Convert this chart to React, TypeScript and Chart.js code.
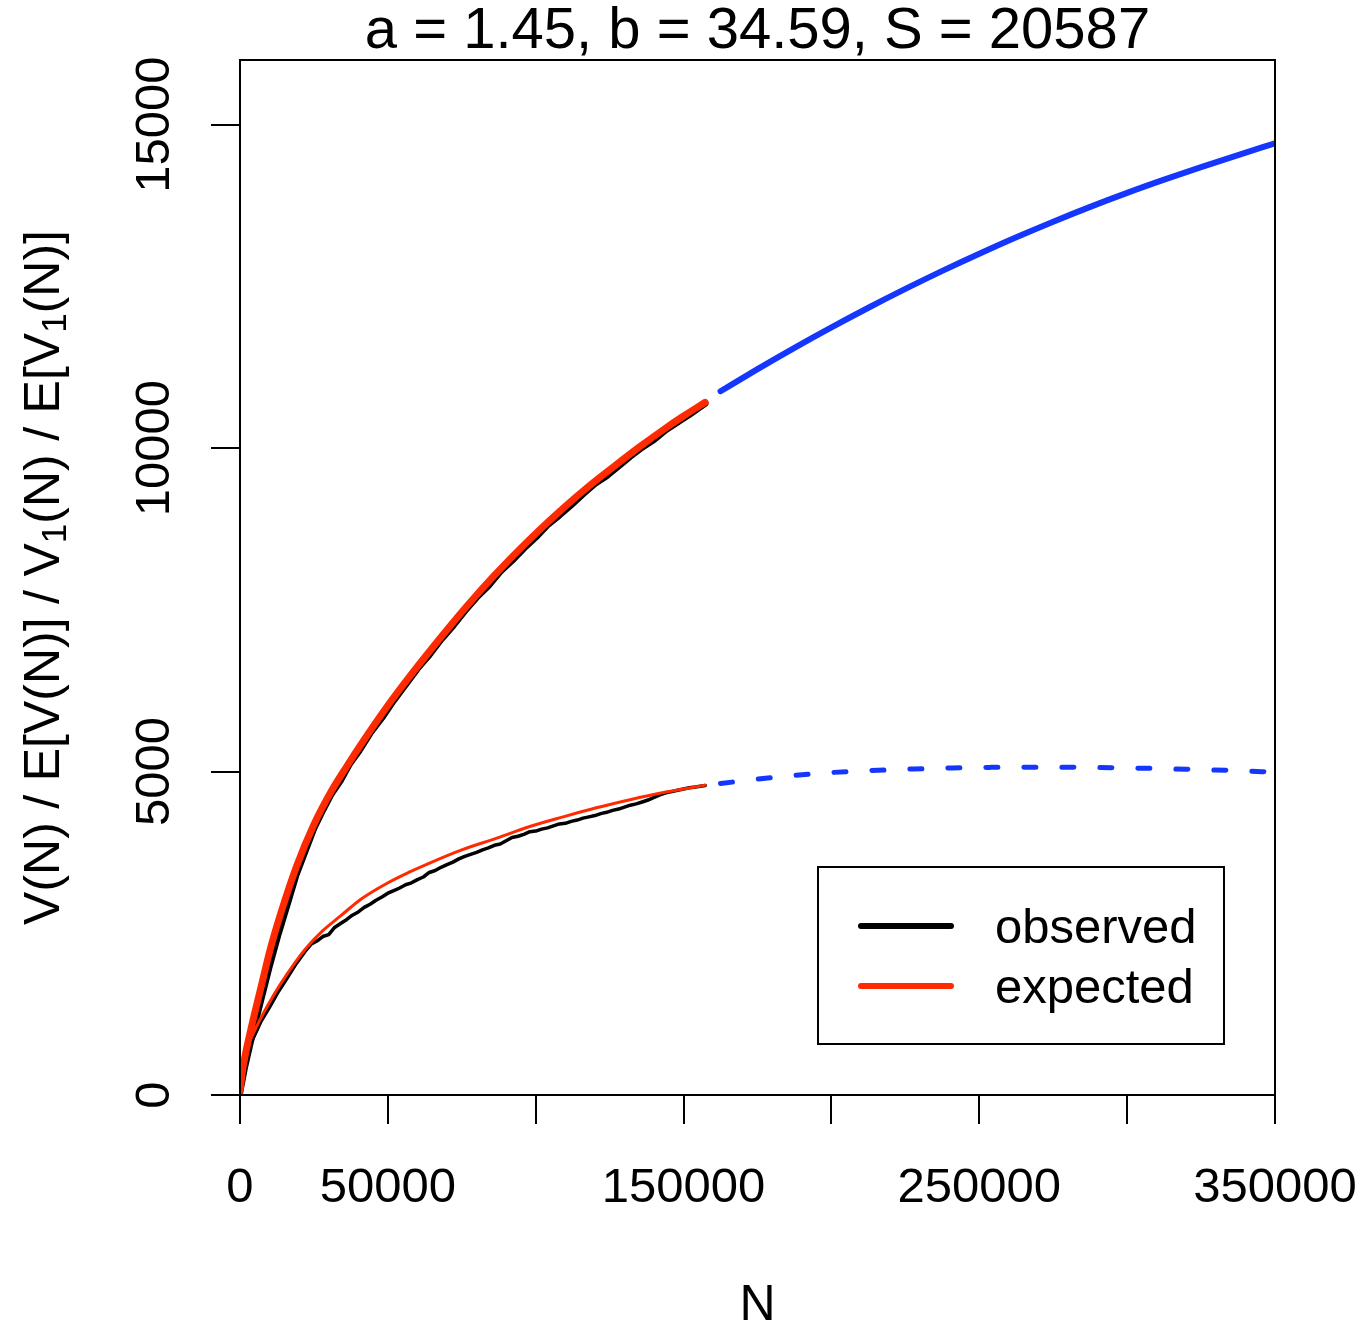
import React, { useEffect, useRef } from 'react';
import { Chart, registerables } from 'chart.js';

Chart.register(...registerables);

const FONT = '"Liberation Sans", Arial, Helvetica, sans-serif';

const titleText = 'a = 1.45, b = 34.59, S = 20587';
const xTitle = 'N';
const xRange = [0, 350000];
const yRange = [0, 16000];
const xTickValues = [0, 50000, 100000, 150000, 200000, 250000, 300000, 350000];
const xTickLabels = ['0', '50000', '', '150000', '', '250000', '', '350000'];
const yTickValues = [0, 5000, 10000, 15000];
const yTickLabels = ['0', '5000', '10000', '15000'];
const legendLabels = ['observed', 'expected'];
const legendColors = ['#000000', '#ff2a00'];

const RED = '#ff2a00';
const BLUE = '#1436ff';
const BLACK = '#000000';

// V(N): observed
const upperObsN = [0, 1500, 4000, 7000, 10000, 13000, 16000, 19000, 22000, 25000, 28000, 31000, 34000, 37000, 40000, 44000, 48000, 52000, 56000, 60000, 64000, 68000, 72000, 76000, 80000, 84000, 88000, 92000, 96000, 100000, 104000, 108000, 112000, 116000, 120000, 124000, 128000, 132000, 136000, 140000, 144000, 148000, 152000, 157300];
const upperObsV = [40, 400, 900, 1450, 1990, 2490, 2940, 3400, 3760, 4120, 4400, 4660, 4860, 5110, 5300, 5590, 5830, 6100, 6340, 6590, 6800, 7040, 7250, 7480, 7690, 7870, 8090, 8260, 8450, 8620, 8810, 8960, 9120, 9290, 9450, 9570, 9720, 9870, 10010, 10130, 10280, 10400, 10520, 10690];

// E[V(N)]: expected
const upperExpN = [0, 1000, 3400, 7440, 10150, 14000, 19170, 25000, 30440, 36000, 41700, 50000, 57000, 64250, 71000, 78000, 85000, 92430, 101000, 109340, 118000, 126250, 135000, 143150, 150000, 157300];
const upperExpV = [60, 420, 958, 1730, 2240, 2840, 3541, 4182, 4661, 5074, 5473, 6021, 6448, 6868, 7246, 7624, 7981, 8338, 8724, 9074, 9412, 9709, 10015, 10284, 10496, 10708];

// V1(N): observed
const lowerObsN = [0, 1000, 2500, 4500, 7000, 10000, 13000, 16000, 19000, 22000, 24000, 26000, 28000, 30000, 32000, 34000, 36000, 38000, 40000, 42000, 44000, 46000, 48000, 50000, 52000, 54000, 56000, 58000, 60000, 62000, 64000, 66000, 68000, 70000, 72000, 74000, 76000, 78000, 80000, 82000, 84000, 86000, 88000, 90000, 92000, 94000, 96000, 98000, 100000, 102000, 104000, 106000, 108000, 110000, 112000, 114000, 116000, 118000, 120000, 122000, 124000, 126000, 128000, 130000, 132000, 134000, 136000, 138000, 140000, 142000, 144000, 146000, 148000, 150000, 152000, 154000, 157300];
const lowerObsV = [40, 420, 700, 880, 1130, 1360, 1600, 1810, 2030, 2220, 2330, 2380, 2450, 2480, 2590, 2650, 2710, 2780, 2830, 2900, 2950, 3010, 3060, 3120, 3160, 3200, 3250, 3280, 3330, 3370, 3440, 3470, 3520, 3560, 3600, 3650, 3690, 3720, 3750, 3790, 3820, 3860, 3880, 3930, 3980, 4000, 4030, 4070, 4080, 4110, 4130, 4160, 4190, 4200, 4230, 4250, 4280, 4300, 4320, 4350, 4370, 4400, 4420, 4450, 4480, 4500, 4530, 4560, 4600, 4640, 4670, 4690, 4710, 4730, 4750, 4760, 4785];

// E[V1(N)]: expected
const lowerExpN = [0, 1100, 4500, 10200, 15800, 22000, 28000, 33800, 41000, 49600, 57000, 64300, 75000, 86800, 98000, 109300, 120500, 131900, 143200, 150000, 157300];
const lowerExpV = [60, 540, 950, 1450, 1860, 2250, 2540, 2760, 3030, 3270, 3440, 3590, 3790, 3970, 4150, 4300, 4440, 4565, 4675, 4730, 4790];

// extrapolation of E[V(N)]
const upperExtN = [162500, 175000, 187500, 200000, 212500, 225000, 237500, 250000, 262500, 275000, 287500, 300000, 312500, 325000, 337500, 350000];
const upperExtV = [10880, 11221, 11550, 11866, 12170, 12461, 12740, 13006, 13260, 13501, 13730, 13946, 14150, 14344, 14531, 14713];

// extrapolation of E[V1(N)]
const lowerExtN = [162500, 174400, 187000, 200000, 213000, 228000, 241000, 254000, 268000, 281000, 295000, 309000, 323000, 337000, 350000];
const lowerExtV = [4815, 4880, 4940, 4985, 5015, 5040, 5055, 5065, 5068, 5067, 5060, 5048, 5032, 5015, 4990];

const zip = (xs: number[], ys: number[]) => xs.map((x, i) => ({ x, y: ys[i] }));

const rPlugin = {
  id: 'rstyle',
  afterDraw(chart: any) {
    const ctx: CanvasRenderingContext2D = chart.ctx;
    const a = chart.chartArea;
    const cx = (a.left + a.right) / 2;
    const cy = (a.top + a.bottom) / 2;
    ctx.save();
    ctx.strokeStyle = '#000';
    ctx.lineWidth = 2;
    ctx.strokeRect(a.left, a.top, a.right - a.left, a.bottom - a.top);
    ctx.fillStyle = '#000';

    // title
    ctx.font = `58px ${FONT}`;
    ctx.textAlign = 'center';
    ctx.textBaseline = 'alphabetic';
    ctx.fillText(titleText, cx, 48);

    // x tick labels
    const xs = chart.scales.x;
    ctx.font = `49px ${FONT}`;
    xs.ticks.forEach((t: any) => {
      if (t.label) ctx.fillText(String(t.label), xs.getPixelForValue(t.value), a.bottom + 107);
    });

    // y tick labels (rotated)
    const ys = chart.scales.y;
    ys.ticks.forEach((t: any) => {
      if (!t.label) return;
      ctx.save();
      ctx.translate(a.left - 71, ys.getPixelForValue(t.value));
      ctx.rotate(-Math.PI / 2);
      ctx.textAlign = 'center';
      ctx.fillText(String(t.label), 0, 0);
      ctx.restore();
    });

    // x title
    ctx.font = `50px ${FONT}`;
    ctx.textAlign = 'center';
    ctx.fillText(xTitle, cx, 1320);

    // y title with subscripts
    const segs: { t: string; sub?: boolean; slash?: boolean }[] = [
      { t: 'V(N)' }, { t: '/', slash: true }, { t: 'E[V(N)]' }, { t: '/', slash: true },
      { t: 'V' }, { t: '1', sub: true }, { t: '(N)' }, { t: '/', slash: true },
      { t: 'E[V' }, { t: '1', sub: true }, { t: '(N)]' },
    ];
    const normalFont = `50px ${FONT}`;
    const subFont = `35px ${FONT}`;
    const gap = 13.5;
    const widths = segs.map((s) => {
      ctx.font = s.sub ? subFont : normalFont;
      return ctx.measureText(s.t).width + (s.slash ? 2 * gap : 0);
    });
    const total = widths.reduce((p, c) => p + c, 0);
    ctx.save();
    ctx.translate(59, cy);
    ctx.rotate(-Math.PI / 2);
    ctx.textAlign = 'left';
    let pos = -total / 2;
    segs.forEach((s, i) => {
      ctx.font = s.sub ? subFont : normalFont;
      ctx.fillText(s.t, pos + (s.slash ? gap : 0), s.sub ? 7 : 0);
      pos += widths[i];
    });
    ctx.restore();

    // legend
    ctx.lineWidth = 2;
    ctx.strokeStyle = '#000';
    ctx.strokeRect(818, 867, 406, 177);
    ctx.font = `49px ${FONT}`;
    ctx.textAlign = 'left';
    legendLabels.forEach((lab, i) => {
      const ly = 926 + i * 60;
      ctx.beginPath();
      ctx.strokeStyle = legendColors[i];
      ctx.lineWidth = 6;
      ctx.lineCap = 'round';
      ctx.moveTo(861, ly);
      ctx.lineTo(951, ly);
      ctx.stroke();
      ctx.fillStyle = '#000';
      ctx.fillText(lab, 995, ly + 17);
    });
    ctx.restore();
  },
};

const fixScale = (range: number[], values: number[], labels: string[]) => (s: any) => {
  s.min = range[0];
  s.max = range[1];
  s.ticks = values.map((v, i) => ({ value: v, label: labels[i] }));
};

export default function App() {
  const ref = useRef<HTMLCanvasElement | null>(null);
  useEffect(() => {
    if (!ref.current) return;
    const common = { pointRadius: 0, pointHoverRadius: 0, fill: false, borderCapStyle: 'round', borderJoinStyle: 'round' };
    const gridOpts = { display: true, drawOnChartArea: false, drawTicks: true, tickLength: 29, color: '#000', tickColor: '#000', lineWidth: 2 };
    const chart = new Chart(ref.current, {
      type: 'line',
      data: {
        datasets: [
          { ...common, label: 'V obs', data: zip(upperObsN, upperObsV), borderColor: BLACK, borderWidth: 6.5, tension: 0, order: 3 },
          { ...common, label: 'V1 obs', data: zip(lowerObsN, lowerObsV), borderColor: BLACK, borderWidth: 3.5, tension: 0, order: 3 },
          { ...common, label: 'V exp', data: zip(upperExpN, upperExpV), borderColor: RED, borderWidth: 7, cubicInterpolationMode: 'monotone', order: 2 },
          { ...common, label: 'V1 exp', data: zip(lowerExpN, lowerExpV), borderColor: RED, borderWidth: 3, cubicInterpolationMode: 'monotone', order: 2 },
          { ...common, label: 'V ext', data: zip(upperExtN, upperExtV), borderColor: BLUE, borderWidth: 6, cubicInterpolationMode: 'monotone', order: 1 },
          { ...common, label: 'V1 ext', data: zip(lowerExtN, lowerExtV), borderColor: BLUE, borderWidth: 5, borderDash: [12, 26], cubicInterpolationMode: 'monotone', order: 1 },
        ] as any,
      },
      options: {
        animation: false,
        responsive: false,
        devicePixelRatio: 1,
        parsing: false as any,
        layout: { padding: { top: 60, right: 92, bottom: 0, left: 0 } },
        plugins: { legend: { display: false }, title: { display: false }, tooltip: { enabled: false } },
        events: [],
        scales: {
          x: {
            type: 'linear',
            bounds: 'data',
            min: xRange[0],
            max: xRange[1],
            ticks: { display: false, includeBounds: false },
            grid: gridOpts,
            border: { display: false },
            afterBuildTicks: fixScale(xRange, xTickValues, xTickLabels),
            afterTickToLabelConversion: (s: any) => { s.ticks.forEach((t: any, i: number) => { t.label = xTickLabels[i]; }); },
            afterFit: (s: any) => { s.height = 230; },
          },
          y: {
            type: 'linear',
            bounds: 'data',
            min: yRange[0],
            max: yRange[1],
            ticks: { display: false, includeBounds: false },
            grid: gridOpts,
            border: { display: false },
            afterBuildTicks: fixScale(yRange, yTickValues, yTickLabels),
            afterTickToLabelConversion: (s: any) => { s.ticks.forEach((t: any, i: number) => { t.label = yTickLabels[i]; }); },
            afterFit: (s: any) => { s.width = 240; },
          },
        },
      } as any,
      plugins: [rPlugin],
    });
    return () => chart.destroy();
  }, []);
  return (
    <div style={{ position: 'absolute', left: 0, top: 0, width: 1367, height: 1325, background: '#fff' }}>
      <canvas ref={ref} width={1367} height={1325} />
    </div>
  );
}
